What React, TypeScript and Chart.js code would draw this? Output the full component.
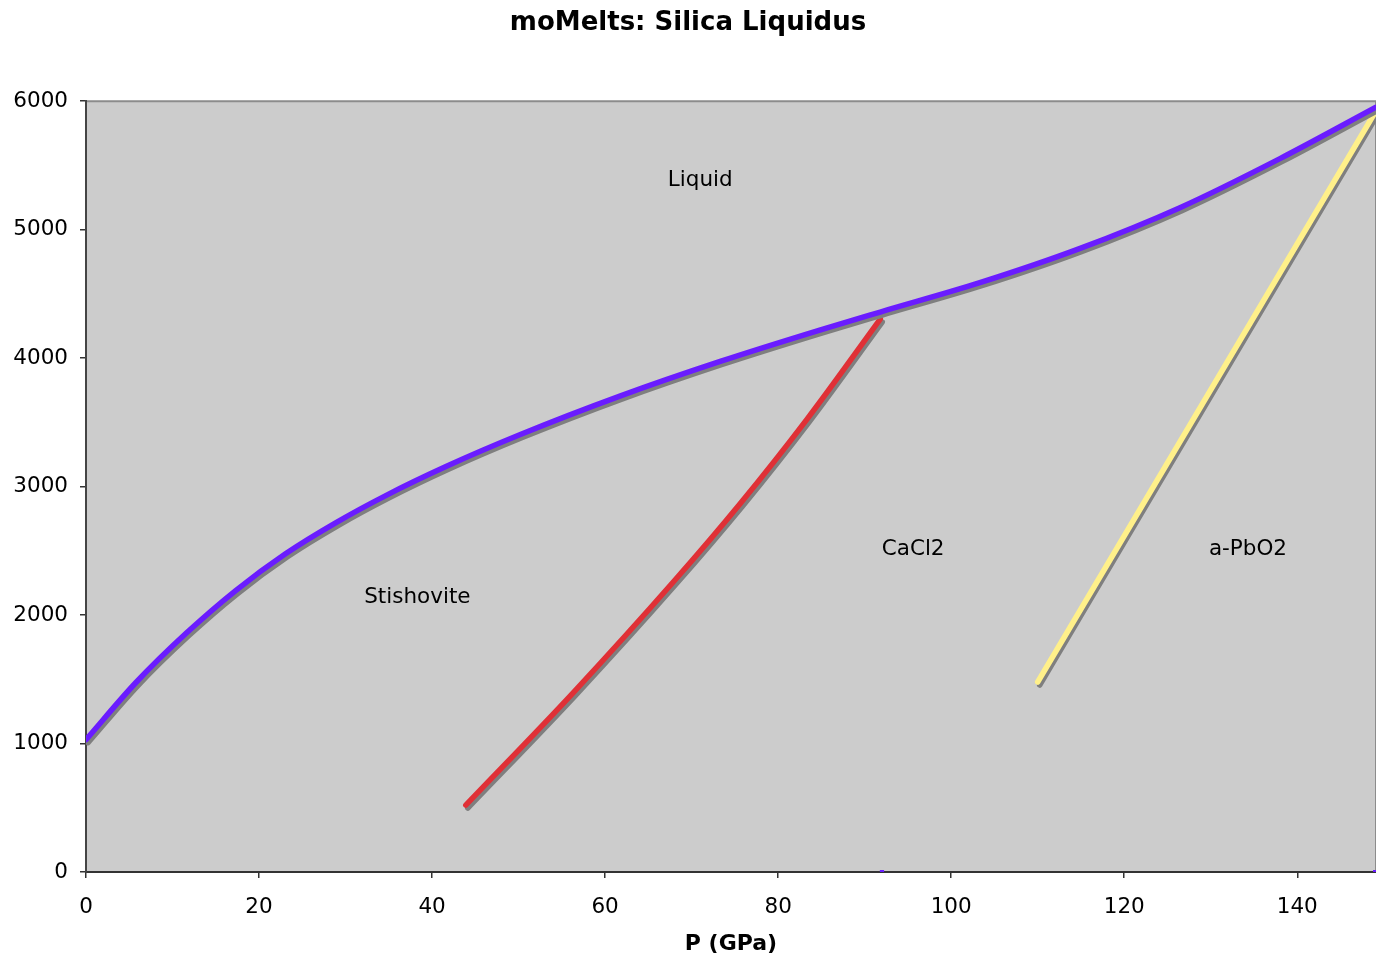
import React, { useEffect, useRef } from "react";
import { Chart, registerables } from "chart.js";

Chart.register(...registerables);

const chartTitle = "moMelts: Silica Liquidus";
const xAxisTitle = "P (GPa)";

const liquidusP = [0, 5.8, 11.6, 17.3, 23.1, 28.9, 34.7, 41.6, 50.2, 61.7, 73.3, 84.9, 91.8, 103.4, 114.9, 126.5, 138, 149.1];
const liquidusT = [1030, 1477, 1860, 2191, 2479, 2720, 2932, 3156, 3405, 3704, 3974, 4220, 4359, 4589, 4854, 5173, 5553, 5953];

const cacl2P = [43.9, 56.3, 67.9, 75.6, 83.3, 91.8];
const cacl2T = [521, 1395, 2259, 2867, 3522, 4304];

const pbo2P = [110, 149];
const pbo2T = [1479, 5914];

const markerP = [92, 149];
const markerT = [0, 0];

const regionNames = ["Liquid", "Stishovite", "CaCl2", "a-PbO2"];
const regionP = [71.0, 38.3, 95.6, 134.3];
const regionT = [5385, 2140, 2514, 2514];

const xMin = 0;
const xMax = 149.1;
const yMin = 0;
const yMax = 6000;

const toXY = (xs: number[], ys: number[]) => xs.map((x, i) => ({ x, y: ys[i] }));

const FONT = "'DejaVu Sans', Verdana, sans-serif";

const plotBg = {
  id: "plotBg",
  beforeDraw(chart: any) {
    const { ctx, chartArea: a } = chart;
    ctx.save();
    ctx.fillStyle = "#cccccc";
    ctx.fillRect(a.left, a.top, a.right - a.left, a.bottom - a.top);
    ctx.strokeStyle = "#8c8c8c";
    ctx.lineWidth = 2;
    ctx.beginPath();
    ctx.moveTo(a.left, a.top);
    ctx.lineTo(a.right, a.top);
    ctx.lineTo(a.right, a.bottom);
    ctx.stroke();
    ctx.restore();
  },
};

const shadowPlugin = {
  id: "lineShadow",
  beforeDatasetDraw(chart: any, args: any) {
    const ds = chart.data.datasets[args.index];
    const ctx = chart.ctx;
    ctx.save();
    if (ds.shadow) {
      ctx.shadowColor = "#7f7f7f";
      ctx.shadowOffsetX = 2;
      ctx.shadowOffsetY = 3;
      ctx.shadowBlur = 0;
    }
  },
  afterDatasetDraw(chart: any) {
    chart.ctx.restore();
  },
};

const regionLabels = {
  id: "regionLabels",
  afterDatasetsDraw(chart: any) {
    const { ctx, scales } = chart;
    ctx.save();
    ctx.fillStyle = "#000";
    ctx.font = `21.5px ${FONT}`;
    ctx.textAlign = "center";
    ctx.textBaseline = "middle";
    regionNames.forEach((name, i) => {
      ctx.fillText(name, scales.x.getPixelForValue(regionP[i]), scales.y.getPixelForValue(regionT[i]));
    });
    ctx.restore();
  },
};

export default function App() {
  const ref = useRef<HTMLCanvasElement | null>(null);
  useEffect(() => {
    if (!ref.current) return;
    Chart.defaults.font.family = FONT;
    Chart.defaults.color = "#000";
    const chart = new Chart(ref.current, {
      type: "scatter",
      data: {
        datasets: [
          {
            label: "Liquidus",
            data: toXY(liquidusP, liquidusT),
            showLine: true,
            borderColor: "#6a1cff",
            backgroundColor: "#6a1cff",
            borderWidth: 5.5,
            pointRadius: 0,
            cubicInterpolationMode: "monotone",
            borderCapStyle: "round",
            shadow: true,
          } as any,
          {
            label: "Stishovite-CaCl2",
            data: toXY(cacl2P, cacl2T),
            showLine: true,
            borderColor: "#e03036",
            backgroundColor: "#e03036",
            borderWidth: 5.5,
            pointRadius: 0,
            cubicInterpolationMode: "monotone",
            borderCapStyle: "round",
            shadow: true,
          } as any,
          {
            label: "CaCl2-aPbO2",
            data: toXY(pbo2P, pbo2T),
            showLine: true,
            borderColor: "#fff08a",
            backgroundColor: "#fff08a",
            borderWidth: 5.5,
            pointRadius: 0,
            borderCapStyle: "round",
            shadow: true,
          } as any,
          {
            label: "markers",
            data: toXY(markerP, markerT),
            showLine: false,
            pointStyle: "rect",
            pointRadius: 3,
            borderWidth: 0,
            backgroundColor: "#6a1cff",
            borderColor: "#6a1cff",
          } as any,
        ],
      },
      options: {
        animation: false,
        responsive: false,
        maintainAspectRatio: false,
        layout: { autoPadding: false, padding: { left: 0, right: 0, top: 0, bottom: 0 } },
        plugins: {
          legend: { display: false },
          tooltip: { enabled: false },
          title: {
            display: true,
            text: chartTitle,
            font: { size: 26, weight: "bold", family: FONT },
            color: "#000",
            padding: { top: 8, bottom: 62 },
          },
        },
        scales: {
          x: {
            type: "linear",
            min: xMin,
            max: xMax,
            afterFit(scale: any) {
              scale.height = 87;
              scale.paddingLeft = 0;
              scale.paddingRight = 0;
            },
            ticks: {
              stepSize: 20,
              includeBounds: false,
              font: { size: 21.5, family: FONT },
              color: "#000",
              padding: 17,
              maxRotation: 0,
              callback: (v: any) => String(v),
            },
            grid: {
              display: true,
              drawOnChartArea: false,
              drawTicks: true,
              tickLength: 6,
              color: "#333",
              lineWidth: 1.5,
            },
            border: { display: true, color: "#333", width: 2 },
            title: {
              display: true,
              text: xAxisTitle,
              font: { size: 22, weight: "bold", family: FONT },
              color: "#000",
              padding: { top: 4, bottom: 2 },
            },
          },
          y: {
            type: "linear",
            min: yMin,
            max: yMax,
            afterFit(scale: any) {
              scale.width = 86;
            },
            ticks: {
              stepSize: 1000,
              font: { size: 21.5, family: FONT },
              color: "#000",
              padding: 12,
              callback: (v: any) => String(v),
            },
            grid: {
              display: true,
              drawOnChartArea: false,
              drawTicks: true,
              tickLength: 6,
              color: "#333",
              lineWidth: 1.5,
            },
            border: { display: true, color: "#444", width: 2 },
          },
        },
      } as any,
      plugins: [plotBg, shadowPlugin, regionLabels],
    });
    return () => chart.destroy();
  }, []);
  return (
    <div style={{ position: "fixed", left: 0, top: 0, width: 1376, height: 959 }}>
      <canvas ref={ref} width={1376} height={959} style={{ width: 1376, height: 959 }} />
    </div>
  );
}
